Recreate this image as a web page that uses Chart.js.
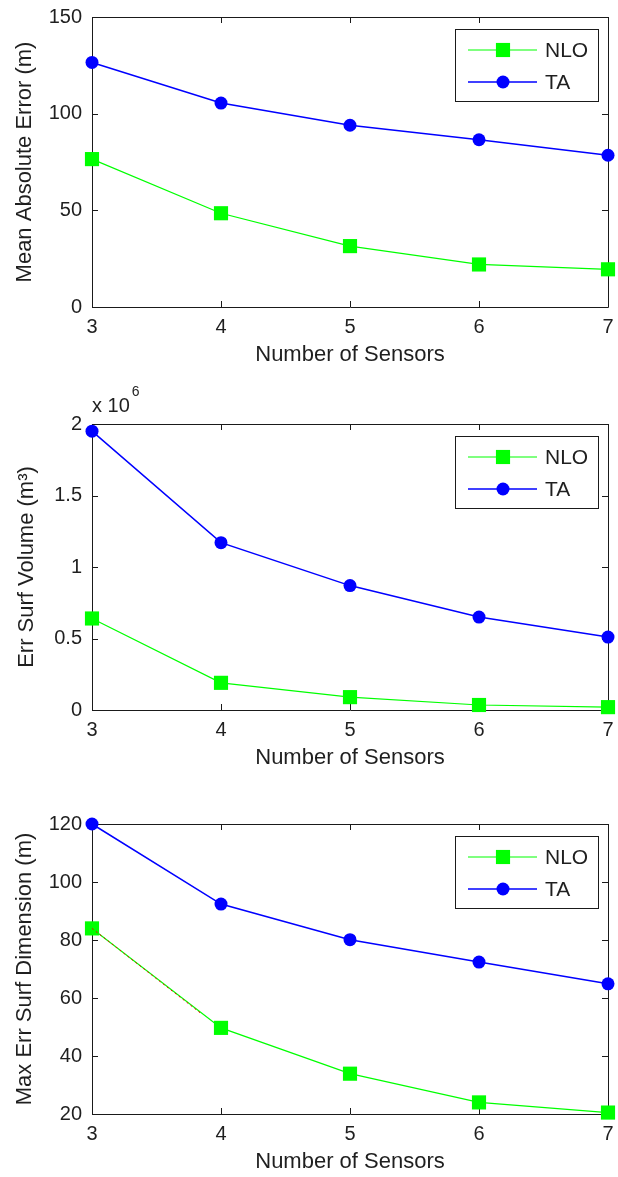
<!DOCTYPE html>
<html lang="en">
<head>
<meta charset="UTF-8">
<title>Number of Sensors</title>
<script src="https://cdn.jsdelivr.net/npm/chart.js@4.4.0/dist/chart.umd.min.js"></script>
<style>
  body { margin: 0; background: #fff; width: 618px; height: 1177px; overflow: hidden; }
  canvas { display: block; }
</style>
</head>
<body>
<canvas id="c1" width="618" height="380"></canvas>
<canvas id="c2" width="618" height="400"></canvas>
<canvas id="c3" width="618" height="397"></canvas>
<script>
// x values
const sensors = [3, 4, 5, 6, 7];

// mean absolute error (m)
const maeNLO = [76.5, 48.5, 31.5, 22, 19.5];
const maeTA = [126.5, 105.5, 94, 86.5, 78.5];

// error surface volume (x 10^6 m^3)
const volNLO = [0.64, 0.19, 0.09, 0.035, 0.02];
const volTA = [1.95, 1.17, 0.87, 0.65, 0.51];

// max error surface dimension (m)
const dimNLO = [84, 49.7, 33.9, 24, 20.5];
const dimTA = [120, 92.4, 80.1, 72.4, 64.9];
// the red dotted trace under NLO in the last plot
const dimRedX = [3, 3.85];
const dimRedY = [84, 54.5];

Chart.defaults.font.family = '"Liberation Sans", Arial, sans-serif';
Chart.defaults.font.size = 20;
Chart.defaults.color = '#1f1f1f';

const titleFont = { size: 22 };

function pts(xs, ys) {
  return xs.map((x, i) => ({ x: x, y: ys[i] }));
}

function nloSet(ys) {
  return {
    label: 'NLO', data: pts(sensors, ys),
    borderColor: '#00ff00', backgroundColor: '#00ff00', borderWidth: 1.2,
    pointStyle: 'rect', pointRadius: 10, pointBorderWidth: 0, clip: false
  };
}
function taSet(ys) {
  return {
    label: 'TA', data: pts(sensors, ys),
    borderColor: '#0000ff', backgroundColor: '#0000ff', borderWidth: 1.5,
    pointStyle: 'circle', pointRadius: 6.5, pointBorderWidth: 0, clip: false
  };
}

// frame, inward ticks on all four sides, legend box and exponent note
const matlabAxes = {
  id: 'matlabAxes',
  beforeDatasetsDraw(chart) {
    const ctx = chart.ctx, a = chart.chartArea;
    const xs = chart.scales.x, ys = chart.scales.y;
    const tl = 6;
    ctx.save();
    ctx.strokeStyle = '#1a1a1a';
    ctx.lineWidth = 1;
    ctx.beginPath();
    ctx.rect(Math.round(a.left) + 0.5, Math.round(a.top) + 0.5,
      Math.round(a.right - a.left), Math.round(a.bottom - a.top));
    xs.ticks.forEach(t => {
      const px = Math.round(xs.getPixelForValue(t.value)) + 0.5;
      ctx.moveTo(px, a.bottom); ctx.lineTo(px, a.bottom - tl);
      ctx.moveTo(px, a.top); ctx.lineTo(px, a.top + tl);
    });
    ys.ticks.forEach(t => {
      const py = Math.round(ys.getPixelForValue(t.value)) + 0.5;
      ctx.moveTo(a.left, py); ctx.lineTo(a.left + tl, py);
      ctx.moveTo(a.right, py); ctx.lineTo(a.right - tl, py);
    });
    ctx.stroke();
    ctx.restore();
  },
  afterDraw(chart, args, opts) {
    const ctx = chart.ctx, a = chart.chartArea;
    const w = 143, h = 72;
    const x0 = Math.round(a.right - 10 - w), y0 = Math.round(a.top + 12);
    ctx.save();
    ctx.fillStyle = '#fff';
    ctx.fillRect(x0, y0, w, h);
    ctx.strokeStyle = '#1a1a1a';
    ctx.lineWidth = 1;
    ctx.strokeRect(x0 + 0.5, y0 + 0.5, w, h);
    const shown = chart.data.datasets.filter(d => d.label === 'NLO' || d.label === 'TA');
    shown.forEach((ds, i) => {
      const y = y0 + 21 + i * 32;
      ctx.strokeStyle = ds.borderColor;
      ctx.lineWidth = ds.borderWidth;
      ctx.beginPath();
      ctx.moveTo(x0 + 13, y); ctx.lineTo(x0 + 82, y);
      ctx.stroke();
      ctx.fillStyle = ds.backgroundColor;
      const mx = x0 + 48;
      if (ds.pointStyle === 'rect') {
        const s = ds.pointRadius * Math.SQRT1_2;
        ctx.fillRect(mx - s, y - s, 2 * s, 2 * s);
      } else {
        ctx.beginPath();
        ctx.arc(mx, y, ds.pointRadius, 0, Math.PI * 2);
        ctx.fill();
      }
      ctx.fillStyle = '#1f1f1f';
      ctx.font = '21px "Liberation Sans", Arial, sans-serif';
      ctx.textBaseline = 'middle';
      ctx.textAlign = 'left';
      ctx.fillText(ds.label, x0 + 90, y + 1);
    });
    if (opts && opts.exponent) {
      ctx.fillStyle = '#1f1f1f';
      ctx.textBaseline = 'alphabetic';
      ctx.font = '20px "Liberation Sans", Arial, sans-serif';
      ctx.fillText('x 10', a.left, a.top - 12);
      const wx = ctx.measureText('x 10').width;
      ctx.font = '14px "Liberation Sans", Arial, sans-serif';
      ctx.fillText(opts.exponent, a.left + wx + 2, a.top - 28);
    }
    ctx.restore();
  }
};

function makeChart(id, cfg) {
  const H = document.getElementById(id).height;
  return new Chart(id, {
    type: 'line',
    data: { datasets: cfg.datasets },
    options: {
      responsive: false,
      animation: false,
      devicePixelRatio: 1,
      layout: { padding: { top: cfg.top, right: 5, left: 0, bottom: 0 } },
      plugins: {
        legend: { display: false },
        tooltip: { enabled: false },
        matlabAxes: { exponent: cfg.exponent }
      },
      scales: {
        x: {
          type: 'linear', min: 3, max: 7,
          grid: { display: false, drawTicks: false }, border: { display: false },
          ticks: { stepSize: 1, padding: 8, maxRotation: 0 },
          title: {
            display: true, text: 'Number of Sensors', font: titleFont,
            padding: { top: 0, bottom: H - cfg.xTitleY - 13 }
          },
          afterFit(s) { s.height = H - cfg.bottom; s.paddingLeft = 0; s.paddingRight = 0; }
        },
        y: {
          min: cfg.min, max: cfg.max,
          grid: { display: false, drawTicks: false }, border: { display: false },
          ticks: { stepSize: cfg.step, padding: 10, callback: v => String(v) },
          title: {
            display: true, text: cfg.yTitle, font: titleFont,
            padding: { top: cfg.yTitleX - 13, bottom: 0 }
          },
          afterFit(s) { s.width = 92; s.paddingTop = 0; s.paddingBottom = 0; }
        }
      }
    },
    plugins: [matlabAxes]
  });
}

makeChart('c1', {
  datasets: [nloSet(maeNLO), taSet(maeTA)],
  top: 17, bottom: 307, xTitleY: 355, yTitleX: 25,
  min: 0, max: 150, step: 50, yTitle: 'Mean Absolute Error (m)'
});

makeChart('c2', {
  datasets: [nloSet(volNLO), taSet(volTA)],
  top: 44, bottom: 330, xTitleY: 378, yTitleX: 27,
  min: 0, max: 2, step: 0.5, yTitle: 'Err Surf Volume (m³)', exponent: '6'
});

makeChart('c3', {
  datasets: [{
    label: 'red', data: pts(dimRedX, dimRedY),
    borderColor: '#ff0000', borderWidth: 1, borderDash: [2, 3],
    pointRadius: 0, clip: false
  }, nloSet(dimNLO), taSet(dimTA)],
  top: 44, bottom: 334, xTitleY: 382, yTitleX: 25,
  min: 20, max: 120, step: 20, yTitle: 'Max Err Surf Dimension (m)'
});
</script>
</body>
</html>
